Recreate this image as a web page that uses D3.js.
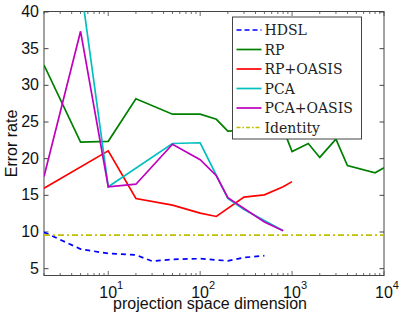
<!DOCTYPE html>
<html>
<head>
<meta charset="utf-8">
<script src="https://cdn.jsdelivr.net/npm/d3@7"></script>
<style>
  body { margin: 0; background: #fff; }
  svg { display: block; font-family: "Liberation Sans", Arial, sans-serif; }
</style>
</head>
<body>
<svg class="chart" width="399" height="316"></svg>
<script>
// data
const hdslX = [2, 5, 10, 20, 30, 50, 100, 200, 300, 500];
const hdslY = [9.9, 7.6, 7.0, 6.8, 5.95, 6.2, 6.3, 6.0, 6.45, 6.7];

const rpX = [2, 5, 10, 20, 50, 100, 150, 200, 800, 1000, 1500, 2000, 3000, 4000, 8000, 10000];
const rpY = [32.7, 22.2, 22.3, 28.1, 26.0, 26.0, 25.3, 23.7, 24.0, 20.9, 22.0, 20.1, 22.6, 19.0, 18.0, 18.7];

const rpOasisX = [2, 10, 20, 50, 100, 150, 300, 500, 800, 1000];
const rpOasisY = [15.9, 21.0, 14.5, 13.6, 12.5, 12.05, 14.7, 15.0, 16.1, 16.8];

const pcaX = [5, 10, 50, 100, 200, 300, 800];
const pcaY = [43.7, 16.1, 22.0, 22.1, 14.5, 13.0, 10.1];

const pcaOasisX = [2, 5, 10, 20, 50, 100, 150, 200, 500, 800];
const pcaOasisY = [17.5, 37.3, 16.1, 16.45, 21.9, 19.8, 17.6, 14.6, 11.3, 10.1];

const identityX = [2, 10000];
const identityY = [9.5, 9.5];

const yTicks = [5, 10, 15, 20, 25, 30, 35, 40];
const xTicks = [10, 100, 1000, 10000];

const series = [
    { name: 'HDSL', xs: hdslX, ys: hdslY, color: '#0000ff', dash: '5,4' },
    { name: 'RP', xs: rpX, ys: rpY, color: '#008000', dash: null },
    { name: 'RP+OASIS', xs: rpOasisX, ys: rpOasisY, color: '#ff0000', dash: null },
    { name: 'PCA', xs: pcaX, ys: pcaY, color: '#00bfbf', dash: null },
    { name: 'PCA+OASIS', xs: pcaOasisX, ys: pcaOasisY, color: '#bf00bf', dash: null },
    { name: 'Identity', xs: identityX, ys: identityY, color: '#bfbf00', dash: '6,3,2,3' }
];

const svg = d3.select('.chart');
const margin = { top: 11.5, right: 15, bottom: 40.5, left: 44 };
const width = +svg.attr('width');
const height = +svg.attr('height');
const innerWidth = width - margin.left - margin.right;
const innerHeight = height - margin.top - margin.bottom;

const xScale = d3.scaleLog().domain([2, 10000]).range([0, innerWidth]);
const yScale = d3.scaleLinear().domain([4, 40]).range([innerHeight, 0]);

const g = svg.append('g')
    .attr('transform', `translate(${margin.left}, ${margin.top})`);

// clip so PCA leaves off the top
g.append('clipPath').attr('id', 'plotClip')
    .append('rect').attr('width', innerWidth).attr('height', innerHeight);

// minor ticks on the log axis
const minor = [];
for (let e = 0; e < 4; e++) {
    for (let m = 2; m <= 9; m++) {
        const v = m * Math.pow(10, e);
        if (v >= 2 && v <= 10000 && !xTicks.includes(v)) minor.push(v);
    }
}
const tickG = g.append('g').attr('stroke', '#444').attr('stroke-width', 0.8);
minor.forEach(v => {
    const x = xScale(v);
    tickG.append('line').attr('x1', x).attr('x2', x).attr('y1', innerHeight).attr('y2', innerHeight - 2.5);
    tickG.append('line').attr('x1', x).attr('x2', x).attr('y1', 0).attr('y2', 2.5);
});
xTicks.forEach(v => {
    const x = xScale(v);
    tickG.append('line').attr('x1', x).attr('x2', x).attr('y1', innerHeight).attr('y2', innerHeight - 4.5);
    tickG.append('line').attr('x1', x).attr('x2', x).attr('y1', 0).attr('y2', 4.5);
});

// y axis left and right
g.append('g')
    .call(d3.axisLeft(yScale).tickValues(yTicks).tickSize(-4.5).tickPadding(5).tickFormat(d3.format('d')))
    .call(a => a.select('.domain').remove())
    .call(a => a.selectAll('line').attr('stroke', '#444'))
    .call(a => a.selectAll('text').style('font-size', '16px').attr('fill', '#111'));

g.append('g')
    .attr('transform', `translate(${innerWidth},0)`)
    .call(d3.axisRight(yScale).tickValues(yTicks).tickSize(-4.5).tickFormat(''))
    .call(a => a.select('.domain').remove())
    .call(a => a.selectAll('line').attr('stroke', '#444'));

// x tick labels as 10 with superscript
const xLab = g.append('g').attr('fill', '#111');
xTicks.forEach(v => {
    const t = xLab.append('text')
        .attr('x', xScale(v) + 3)
        .attr('y', innerHeight + 22)
        .attr('text-anchor', 'middle')
        .style('font-size', '16px');
    t.append('tspan').text('10');
    t.append('tspan').attr('dy', -9).style('font-size', '11px').text(Math.round(Math.log10(v)));
});

// frame
g.append('rect')
    .attr('width', innerWidth).attr('height', innerHeight)
    .attr('fill', 'none').attr('stroke', '#444').attr('stroke-width', 1);

// series
const line = d3.line()
    .x(d => xScale(d[0]))
    .y(d => yScale(d[1]));

const lines = g.append('g').attr('clip-path', 'url(#plotClip)');
series.forEach(s => {
    lines.append('path')
        .datum(d3.zip(s.xs, s.ys))
        .attr('d', line)
        .attr('fill', 'none')
        .attr('stroke', s.color)
        .attr('stroke-width', 1.7)
        .attr('stroke-dasharray', s.dash);
});

// axis titles
svg.append('text')
    .attr('x', 210)
    .attr('y', 309)
    .attr('text-anchor', 'middle')
    .style('font-size', '16px')
    .attr('fill', '#111')
    .text('projection space dimension');

svg.append('text')
    .attr('transform', `translate(17, ${margin.top + innerHeight / 2}) rotate(-90)`)
    .attr('text-anchor', 'middle')
    .style('font-size', '16px')
    .attr('fill', '#111')
    .text('Error rate');

// legend
const legend = svg.append('g').attr('transform', 'translate(232.5, 17)');
legend.append('rect')
    .attr('width', 129).attr('height', 122)
    .attr('fill', '#fff').attr('stroke', '#444').attr('stroke-width', 1);

series.forEach((s, i) => {
    const y = 13 + i * 19.5;
    legend.append('line')
        .attr('x1', 4).attr('x2', 29).attr('y1', y).attr('y2', y)
        .attr('stroke', s.color).attr('stroke-width', 1.7)
        .attr('stroke-dasharray', s.dash ? (s.name === 'HDSL' ? '5,3' : '4,2,1.5,2') : null);
    legend.append('text')
        .attr('x', 32).attr('y', y + 5)
        .style('font-family', '"DejaVu Serif", "Liberation Serif", serif')
        .style('font-size', '14px')
        .attr('fill', '#222')
        .text(s.name);
});
</script>
</body>
</html>
